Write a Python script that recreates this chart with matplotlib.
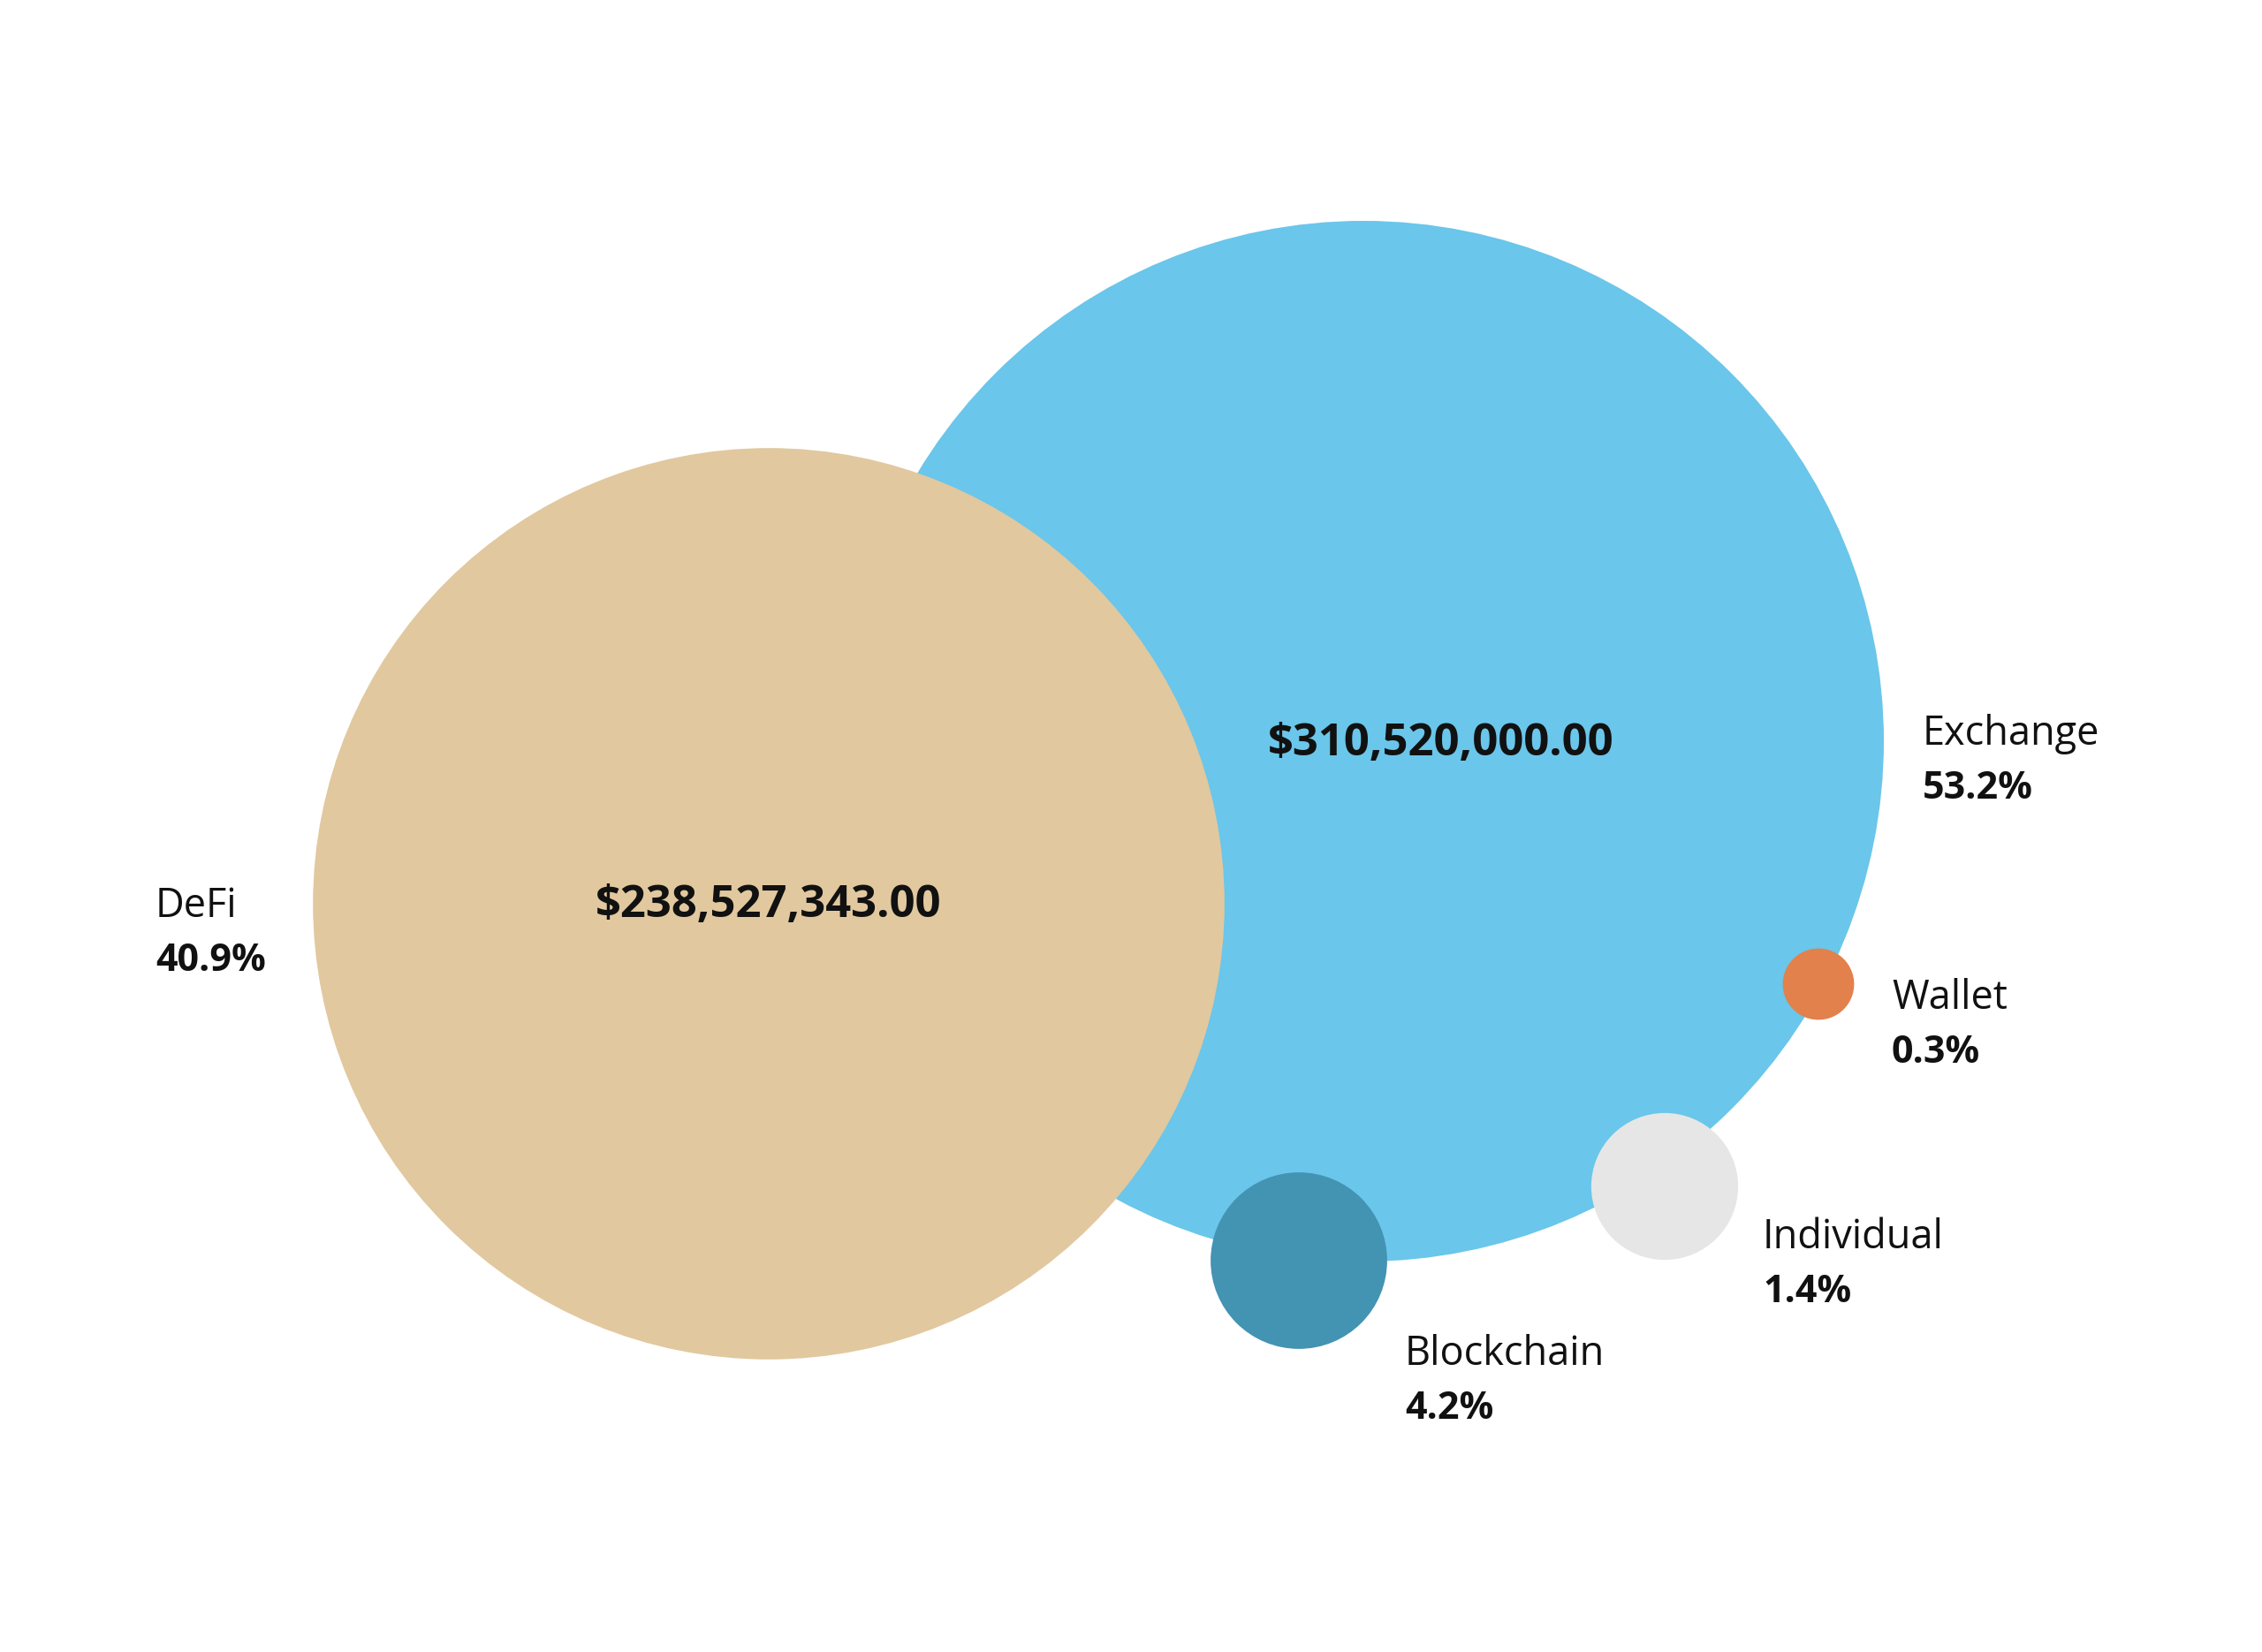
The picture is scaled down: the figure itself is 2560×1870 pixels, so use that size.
import matplotlib
matplotlib.use("Agg")
import matplotlib.pyplot as plt
from matplotlib.patches import Circle
import numpy as np

# ---- data ----
categories = ["Exchange", "DeFi", "Blockchain", "Individual", "Wallet"]
shares = [53.2, 40.9, 4.2, 1.4, 0.3]                  # percent labels
amounts = [310520000.00, 238527343.00, None, None, None]  # value shown inside bubble
bubble_area = [53.2, 40.8, 1.53, 1.06, 0.25]            # relative bubble area as drawn

# ---- layout / style ----
colors = ["#6AC6EA", "#E1C89F", "#4393B3", "#E6E6E6", "#E2814B"]
centers = [(1543, 839), (870, 1023), (1470, 1427), (1884, 1343), (2058, 1114)]
zorders = [1, 2, 3, 3, 3]
max_radius = 589.0
label_pos = [(2176, 843), (176, 1038), (1590, 1545), (1995, 1413), (2141, 1142)]
value_pos = [(1631, 855), (870, 1038), None, None, None]
line_gap = 61

W, H = 2560, 1870
fig = plt.figure(figsize=(W / 100, H / 100), dpi=100)
fig.patch.set_facecolor("white")
ax = fig.add_axes([0, 0, 1, 1])
ax.set_xlim(0, W)
ax.set_ylim(H, 0)
ax.set_aspect("equal")
ax.axis("off")

FONT = ["Open Sans", "DejaVu Sans"]
area_max = max(bubble_area)
for i, cat in enumerate(categories):
    r = max_radius * np.sqrt(bubble_area[i] / area_max)
    ax.add_patch(Circle(centers[i], r, facecolor=colors[i], edgecolor="none",
                        zorder=zorders[i]))
    lx, ly = label_pos[i]
    ax.text(lx, ly, cat, fontsize=32.5, family=FONT, color="#111111",
            ha="left", va="baseline", zorder=5)
    ax.text(lx, ly + line_gap, f"{shares[i]:.1f}%", fontsize=31, family=FONT,
            fontweight="bold", color="#111111", ha="left", va="baseline", zorder=5)
    if amounts[i] is not None:
        vx, vy = value_pos[i]
        ax.text(vx, vy, f"${amounts[i]:,.2f}", fontsize=36.5, family=FONT,
                fontweight="bold", color="#111111", ha="center", va="baseline",
                zorder=5)

fig.savefig("out.png", dpi=100, facecolor="white")
